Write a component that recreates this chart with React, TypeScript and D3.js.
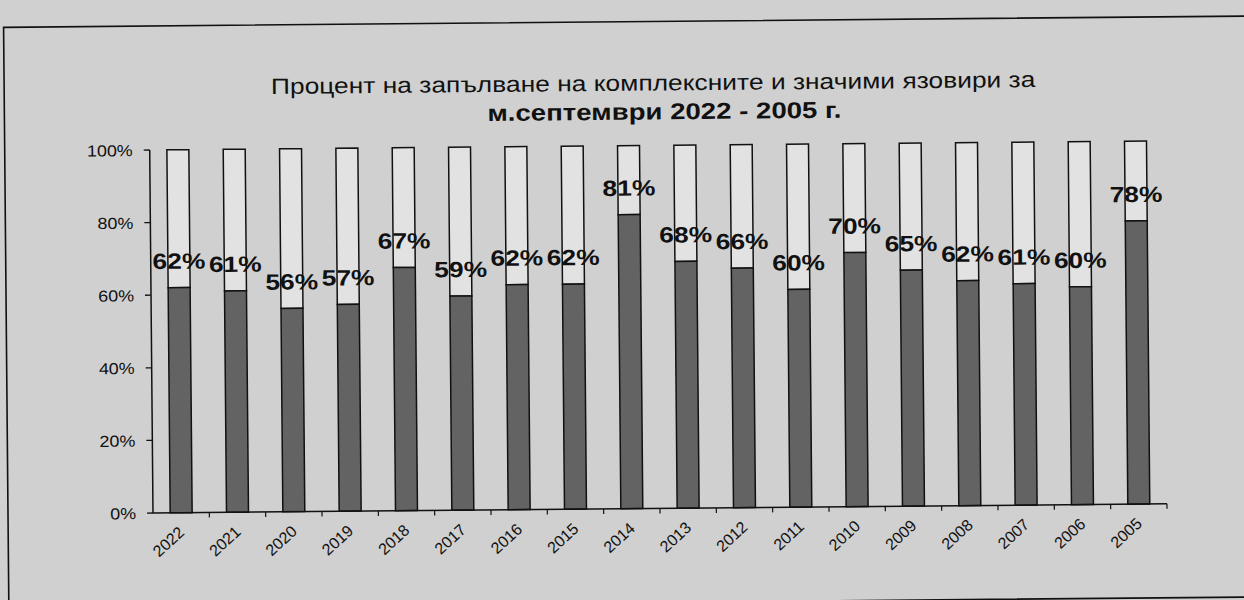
import React from "react";
import * as d3 from "d3";

const years = ["2022","2021","2020","2019","2018","2017","2016","2015","2014","2013","2012","2011","2010","2009","2008","2007","2006","2005"];
const fillPercent = [62,61,56,57,67,59,62,62,81,68,66,60,70,65,62,61,60,78];
const yTicks = [0,20,40,60,80,100];
const titleLine1 = "Процент на запълване на комплексните и значими язовири за";
const titleLine2 = "м.септември 2022 - 2005 г.";

const W = 1244, H = 600;
const X0 = 153, X1 = 1167, Y0 = 513, Y1 = 150;
const FONT = "'Liberation Sans', Arial, sans-serif";
const SX = 1.2;

export default function App() {
  const x = d3.scaleBand<string>().domain(years).range([X0, X1]).paddingInner(0.61).paddingOuter(0.305);
  const y = d3.scaleLinear().domain([0, 100]).range([Y0, Y1]);
  const step = x.step();
  const bw = x.bandwidth();
  return (
    <div style={{ position: "absolute", left: 0, top: 0 }}>
      <svg width={W} height={H} style={{ display: "block" }}>
        <rect x={0} y={0} width={W} height={H} fill="#d0d0d0" />
        <g transform={`rotate(-0.52 ${X0} ${Y0})`}>
          <rect x={8} y={26} width={1400} height={581} fill="none" stroke="#111" strokeWidth={1.6} />
          <text transform={`translate(657,95) scale(${SX},1)`} textAnchor="middle" fontFamily={FONT} fontSize={22} fill="#111">{titleLine1}</text>
          <text transform={`translate(668,124) scale(${SX},1)`} textAnchor="middle" fontFamily={FONT} fontSize={23} fontWeight="bold" fill="#111">{titleLine2}</text>
          {/* y axis */}
          <line x1={X0} x2={X0} y1={y(100)} y2={y(0)} stroke="#111" strokeWidth={1.5} />
          {yTicks.map((t) => (
            <g key={t}>
              <line x1={X0 - 6} x2={X0} y1={y(t)} y2={y(t)} stroke="#111" strokeWidth={1.3} />
              <text transform={`translate(${X0 - 17},${y(t) + 6}) scale(1.12,1)`} textAnchor="end" fontFamily={FONT} fontSize={16} fill="#111">{t}%</text>
            </g>
          ))}
          {/* bars */}
          {years.map((yr, i) => {
            const bx = x(yr) as number;
            const v = fillPercent[i];
            return (
              <g key={yr}>
                <rect x={bx} y={y(100)} width={bw} height={y(v) - y(100)} fill="#e2e2e2" stroke="#111" strokeWidth={1.5} />
                <rect x={bx} y={y(v)} width={bw} height={y(0) - y(v)} fill="#636363" stroke="#111" strokeWidth={1.5} />
              </g>
            );
          })}
          {/* x axis */}
          <line x1={X0} x2={X1} y1={Y0} y2={Y0} stroke="#111" strokeWidth={1.5} />
          {years.map((yr) => {
            const bx = (x(yr) as number) - x.paddingOuter() * step;
            return <line key={"t" + yr} x1={bx + step} x2={bx + step} y1={Y0} y2={Y0 + 5} stroke="#111" strokeWidth={1.2} />;
          })}
          {years.map((yr) => {
            const cx = (x(yr) as number) + bw / 2;
            return (
              <text key={"l" + yr} transform={`translate(${cx + 4},${Y0 + 21}) rotate(-42)`} textAnchor="end" fontFamily={FONT} fontSize={16} fill="#111">{yr}</text>
            );
          })}
          {/* data labels */}
          {years.map((yr, i) => {
            const cx = (x(yr) as number) + bw / 2;
            const v = fillPercent[i];
            return (
              <text key={"d" + yr} transform={`translate(${cx},${y(v) - 19}) scale(${SX},1)`} textAnchor="middle" fontFamily={FONT} fontSize={22} fontWeight="bold" fill="#111">{v}%</text>
            );
          })}
        </g>
      </svg>
    </div>
  );
}
